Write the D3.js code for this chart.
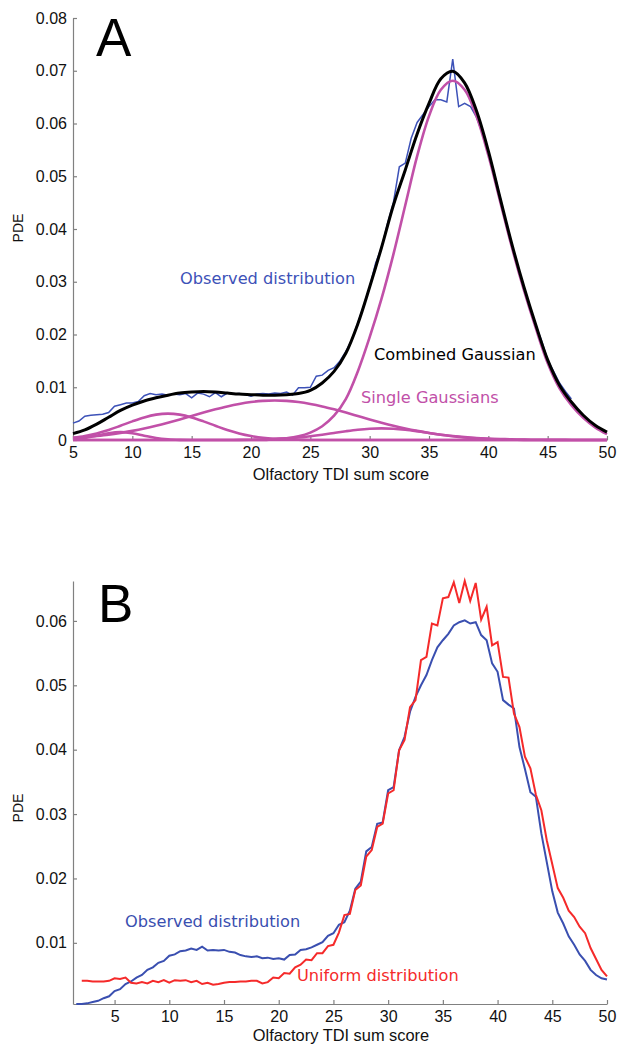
<!DOCTYPE html>
<html>
<head>
<meta charset="utf-8">
<script src="https://cdn.jsdelivr.net/npm/d3@7"></script>
<style>
  body { margin: 0; background: #fff; }
  .tick text { font-family: "Liberation Sans", Arial, sans-serif; font-size: 16px; fill: #111; }
  .domain, .tick line { stroke: #808080; stroke-width: 1.2px; }
  .lbl { font-family: "DejaVu Sans", sans-serif; font-size: 16.2px; }
  .axlbl { font-family: "Liberation Sans", Arial, sans-serif; font-size: 16.4px; fill: #111; }
  .ylbl { font-family: "Liberation Sans", Arial, sans-serif; font-size: 14px; fill: #111; }
  .panel { font-family: "Liberation Sans", Arial, sans-serif; font-size: 53px; fill: #000; }
</style>
</head>
<body>
<svg id="chart" width="621" height="1045"></svg>
<script>
// ---- panel A: observed distribution + gaussian mixture ----
var xsA = d3.range(5, 50.01, 1);        // grid of the fitted curves
var xsObsA = d3.range(5, 47.01, 0.5);   // grid of observed PDE

var observedA = [
  .0032, .0036, .0045, .0047, .0048, .0049, .0052, .0064, .0067, .0070,
  .0070, .0073, .0084, .0088, .0086, .0087, .0085, .0087, .0086, .0088,
  .0080, .0089, .0087, .0082, .0090, .0082, .0089, .0087, .0088, .0086,
  .0083, .0087, .0088, .0087, .0089, .0088, .0091, .0085, .0099, .0099,
  .0100, .0121, .0123, .0132, .0137, .0150, .0168, .0190, .0222, .0255,
  .0290, .0335, .0365, .0410, .0450, .0518, .0525, .0572, .0602, .0617,
  .0632, .0645, .0645, .0641, .0722, .0632, .0638, .0632, .0612, .0582,
  .0545, .0505, .0460, .0412, .0368, .0328, .0288, .0252, .0218, .0187,
  .0152, .0130, .0108, .0092, .0078
];

var combined = [
  .0012, .0019, .0030, .0043, .0056, .0066, .0074, .0080, .0085, .0089,
  .0091, .0092, .0091, .0089, .0087, .0086, .0085, .0085, .0086, .0088,
  .0094, .0108, .0130, .0165, .0220, .0290, .0365, .0445, .0512, .0580,
  .0638, .0685, .0699, .0677, .0624, .0548, .0458, .0370, .0290, .0218,
  .0152, .0104, .0072, .0047, .0028, .0015
];

var gaussMain = [
  0, 0, 0, 0, 0, 0, 0, 0, 0, 0,
  0, 0, 0, 0, 0, 0, 0, .00016, .00034, .0007,
  .0014, .0026, .0046, .0078, .0130, .0195, .0268, .0352, .0445, .0538,
  .0614, .0664, .0681, .0664, .0614, .0540, .0452, .0364, .0284, .0212,
  .0146, .0098, .0066, .0042, .0024, .0011
];
var gaussWide = [
  .00039, .00055, .00076, .00101, .00134, .00173, .00218, .0027, .00328, .0039,
  .00455, .0052, .00581, .00637, .00684, .0072, .00742, .0075, .00742, .0072,
  .00684, .00637, .00581, .0052, .00455, .0039, .00328, .0027, .00218, .00173,
  .00134, .00101, .00076, .00055, .00039, .00028, .00019, .00013, .00008, .00005,
  .00003, .00002, .00001, 0, 0, 0
];
var gaussLow = [
  .00042, .00076, .00125, .0019, .0027, .00353, .00428, .00481, .005, .00481,
  .00428, .00353, .0027, .0019, .00125, .00076, .00042, .00022, .0001, .00005,
  0, 0, 0, 0, 0, 0, 0, 0, 0, 0,
  0, 0, 0, 0, 0, 0, 0, 0, 0, 0,
  0, 0, 0, 0, 0, 0
];
var gaussSmall = [
  .00013, .00037, .00081, .00129, .0015, .00129, .00081, .00037, .00013, .00003,
  0, 0, 0, 0, 0, 0, 0, 0, 0, 0,
  0, 0, 0, 0, 0, 0, 0, 0, 0, 0,
  0, 0, 0, 0, 0, 0, 0, 0, 0, 0,
  0, 0, 0, 0, 0, 0
];
var gaussMid = [
  0, 0, 0, 0, 0, 0, 0, 0, 0, 0,
  0, 0, 0, 0, .00002, .00005, .0001, .00018, .0003, .00048,
  .00072, .00101, .00134, .00166, .00194, .00213, .0022, .00213, .00194, .00166,
  .00134, .00101, .00072, .00048, .0003, .00018, .0001, .00005, .00002, 0,
  0, 0, 0, 0, 0, 0
];

var xTicksA = [5, 10, 15, 20, 25, 30, 35, 40, 45, 50];
var yTicksA = [0, 0.01, 0.02, 0.03, 0.04, 0.05, 0.06, 0.07, 0.08];

// ---- panel B: observed vs uniform ----
var xsObsB = d3.range(1.5, 50.01, 0.5);
var xsUniB = d3.range(2, 50.01, 0.5);

var observedB = [
  .0005, .0005, .0006, .0008, .0010, .0014, .0017, .0025, .0028, .0036,
  .0040, .0046, .0050, .0058, .0062, .0069, .0072, .0080, .0082, .0087,
  .0088, .0091, .0089, .0094, .0088, .0089, .0088, .0089, .0086, .0085,
  .0081, .0079, .0078, .0079, .0076, .0077, .0075, .0076, .0074, .0081,
  .0082, .0089, .0090, .0093, .0097, .0101, .0111, .0115, .0128, .0132,
  .0150, .0184, .0195, .0242, .0249, .0285, .0287, .0337, .0342, .0399,
  .0420, .0459, .0482, .0500, .0516, .0539, .0559, .0570, .0580, .0593,
  .0598, .0601, .0596, .0598, .0578, .0570, .0534, .0521, .0477, .0470,
  .0464, .0404, .0370, .0334, .0327, .0270, .0225, .0180, .0147, .0130,
  .0110, .0097, .0082, .0072, .0058, .0050, .0045, .0043
];

var uniformB = [
  .0041, .0041, .0040, .0040, .0040, .0041, .0045, .0044, .0046, .0038,
  .0037, .0039, .0037, .0041, .0039, .0042, .0038, .0042, .0041, .0042,
  .0039, .0041, .0036, .0038, .0035, .0036, .0038, .0039, .0039, .0040,
  .0040, .0041, .0041, .0037, .0039, .0046, .0045, .0053, .0052, .0062,
  .0066, .0074, .0073, .0084, .0084, .0095, .0097, .0116, .0143, .0145,
  .0182, .0189, .0234, .0244, .0280, .0285, .0332, .0337, .0399, .0415,
  .0466, .0477, .0539, .0544, .0596, .0593, .0635, .0637, .0660, .0628,
  .0662, .0631, .0659, .0602, .0622, .0562, .0567, .0513, .0512, .0456,
  .0435, .0389, .0371, .0330, .0306, .0259, .0222, .0185, .0170, .0150,
  .0140, .0125, .0115, .0092, .0075, .0058, .0048
];

var xTicksB = [5, 10, 15, 20, 25, 30, 35, 40, 45, 50];
var yTicksB = [0.01, 0.02, 0.03, 0.04, 0.05, 0.06];

var svg = d3.select("#chart");
var fmt = function(d) { return d === 0 ? "0" : d3.format(".2f")(d); };

function pairs(xs, ys) { return xs.map(function(x, i) { return [x, ys[i]]; }); }

function drawAxes(g, x, y, xt, yt, ymid, labelOffset) {
  g.append("g")
    .attr("transform", "translate(0," + y.range()[0] + ")")
    .call(d3.axisBottom(x).tickValues(xt).tickSizeInner(-4).tickSizeOuter(0).tickPadding(7));
  g.append("g")
    .attr("transform", "translate(" + x.range()[0] + ",0)")
    .call(d3.axisLeft(y).tickValues(yt).tickFormat(fmt).tickSizeInner(-4).tickSizeOuter(0).tickPadding(6));
  g.append("text")
    .attr("class", "axlbl")
    .attr("x", 341).attr("y", y.range()[0] + labelOffset)
    .attr("text-anchor", "middle")
    .text("Olfactory TDI sum score");
  g.append("text")
    .attr("class", "ylbl")
    .attr("transform", "translate(23," + ymid + ") rotate(-90)")
    .attr("text-anchor", "middle")
    .text("PDE");
}

// panel A
var xA = d3.scaleLinear().domain([5, 50]).range([73, 607]);
var yA = d3.scaleLinear().domain([0, 0.08]).range([440, 18]);
var gA = svg.append("g");
drawAxes(gA, xA, yA, xTicksA, yTicksA, 228, 40);

var lineA = d3.line().x(function(d) { return xA(d[0]); }).y(function(d) { return yA(d[1]); });
var smoothA = d3.line().curve(d3.curveCatmullRom)
  .x(function(d) { return xA(d[0]); }).y(function(d) { return yA(d[1]); });

gA.append("path").datum(pairs(xsObsA, observedA))
  .attr("d", lineA).attr("fill", "none").attr("stroke", "#3d52b8").attr("stroke-width", 1.5);

[gaussMain, gaussWide, gaussLow, gaussSmall, gaussMid].forEach(function(s) {
  gA.append("path").datum(pairs(xsA, s))
    .attr("d", smoothA).attr("fill", "none").attr("stroke", "#c150a8").attr("stroke-width", 2.6);
});

gA.append("path").datum(pairs(xsA, combined))
  .attr("d", smoothA).attr("fill", "none").attr("stroke", "#000").attr("stroke-width", 3);

gA.append("text").attr("class", "panel").attr("x", 96).attr("y", 56).text("A");
gA.append("text").attr("class", "lbl").attr("x", 180).attr("y", 284).attr("fill", "#3d52b8").text("Observed distribution");
gA.append("text").attr("class", "lbl").attr("x", 374).attr("y", 360).attr("fill", "#000").text("Combined Gaussian");
gA.append("text").attr("class", "lbl").attr("x", 361).attr("y", 403).attr("fill", "#c150a8").text("Single Gaussians");

// panel B
var xB = d3.scaleLinear().domain([1.2, 50]).range([73, 607]);
var yB = d3.scaleLinear().domain([0.0005, 0.0662]).range([1004, 581]);
var gB = svg.append("g");
drawAxes(gB, xB, yB, xTicksB, yTicksB, 808, 37);

var lineB = d3.line().x(function(d) { return xB(d[0]); }).y(function(d) { return yB(d[1]); });

gB.append("path").datum(pairs(xsObsB, observedB))
  .attr("d", lineB).attr("fill", "none").attr("stroke", "#3a4fb0").attr("stroke-width", 2);
gB.append("path").datum(pairs(xsUniB, uniformB))
  .attr("d", lineB).attr("fill", "none").attr("stroke", "#f52a2a").attr("stroke-width", 2);

gB.append("text").attr("class", "panel").attr("x", 98).attr("y", 622).text("B");
gB.append("text").attr("class", "lbl").attr("x", 125).attr("y", 927).attr("fill", "#3a4fb0").text("Observed distribution");
gB.append("text").attr("class", "lbl").attr("x", 297).attr("y", 981).attr("fill", "#f52a2a").text("Uniform distribution");
</script>
</body>
</html>
